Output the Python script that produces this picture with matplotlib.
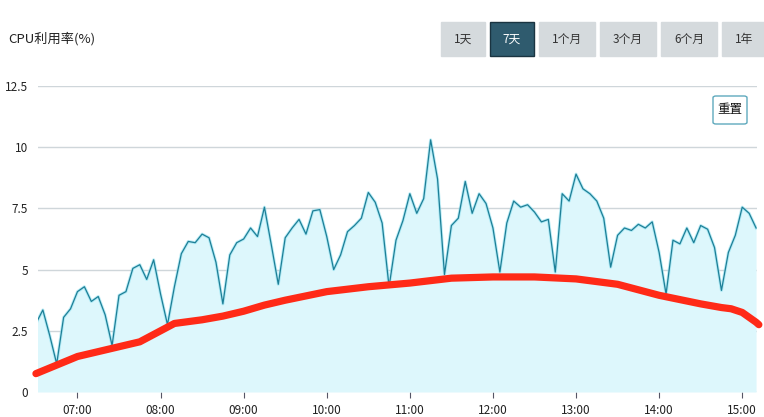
import matplotlib
matplotlib.use("Agg")
from matplotlib import pyplot as plt
from matplotlib.patches import Rectangle, FancyBboxPatch
import matplotlib.dates as mdates
import pandas as pd

plt.rcParams['font.family'] = ['Noto Sans CJK SC', 'DejaVu Sans']

# cpu usage, one reading every 5 minutes from 06:30
start_time = "2024-01-01 06:30"
cpu_values = [2.8, 3.35, 2.3, 1.15, 3.05, 3.4, 4.1, 4.3, 3.7, 3.9,
              3.15, 1.9, 3.95, 4.1, 5.05, 5.2, 4.6, 5.4, 4.0, 2.75,
              4.3, 5.65, 6.15, 6.1, 6.45, 6.3, 5.3, 3.6, 5.6, 6.1,
              6.25, 6.7, 6.35, 7.55, 6.0, 4.4, 6.3, 6.7, 7.05, 6.45,
              7.4, 7.45, 6.35, 5.0, 5.6, 6.55, 6.8, 7.1, 8.15, 7.75,
              6.9, 4.3, 6.2, 7.0, 8.1, 7.3, 7.9, 10.3, 8.7, 4.8,
              6.8, 7.1, 8.6, 7.3, 8.1, 7.7, 6.7, 4.9, 6.9, 7.8,
              7.55, 7.65, 7.35, 6.95, 7.05, 4.9, 8.1, 7.8, 8.9, 8.3,
              8.1, 7.8, 7.1, 5.1, 6.4, 6.7, 6.6, 6.85, 6.7, 6.95,
              5.7, 4.0, 6.2, 6.05, 6.7, 6.1, 6.8, 6.65, 5.9, 4.15,
              5.7, 6.4, 7.55, 7.3, 6.7]

# red trend line
trend_times = ["06:30", "07:00", "07:15", "07:30", "07:45", "08:00", "08:10",
               "08:30", "08:45", "09:00", "09:15", "09:30", "10:00", "10:30",
               "11:00", "11:30", "12:00", "12:30", "13:00", "13:30", "14:00",
               "14:30", "14:45", "14:52", "15:00", "15:10", "15:12"]
trend_values = [0.75, 1.45, 1.65, 1.85, 2.05, 2.5, 2.8,
                2.95, 3.1, 3.3, 3.55, 3.75, 4.1, 4.3,
                4.45, 4.65, 4.7, 4.7, 4.62, 4.4, 3.95,
                3.6, 3.45, 3.4, 3.25, 2.85, 2.75]

y_ticks = [0, 2.5, 5, 7.5, 10, 12.5]
y_labels = ["0", "2.5", "5", "7.5", "10", "12.5"]
buttons = ["1天", "7天", "1个月", "3个月", "6个月", "1年"]
active_button = "7天"

W, H = 764, 417
fig = plt.figure(figsize=(W / 100, H / 100), dpi=100)

def px(x0, y0, w, h):
    # pixel box (top-left origin) -> figure fraction rect
    return (x0 / W, 1 - (y0 + h) / H, w / W, h / H)

ax = fig.add_axes(px(38, 86, 719, 306))

t = pd.date_range(start_time, periods=len(cpu_values), freq="5min")
tt = pd.to_datetime(["2024-01-01 " + s for s in trend_times])

ax.fill_between(t, 0, cpu_values, color="#ddf7fc", lw=0, zorder=1)
ax.plot(t, cpu_values, color="#8ee0f0", lw=2.2, alpha=0.6, zorder=2)
ax.plot(t, cpu_values, color="#1d7f97", lw=0.9, zorder=3)
ax.plot(tt, trend_values, color="#ff2a17", lw=5.2, solid_capstyle="round",
        zorder=4, clip_on=False)

ax.set_xlim(pd.Timestamp("2024-01-01 06:31:30"), pd.Timestamp("2024-01-01 15:10:40"))
ax.set_ylim(0, 12.5)
ax.set_yticks(y_ticks)
ax.set_yticklabels(y_labels)
ax.xaxis.set_major_locator(mdates.HourLocator())
ax.xaxis.set_major_formatter(mdates.DateFormatter("%H:%M"))

ax.grid(axis="y", color="#cfd6da", lw=1)
ax.set_axisbelow(True)
for s in ax.spines.values():
    s.set_visible(False)
ax.tick_params(axis="y", length=0, pad=7, labelsize=8.5, labelcolor="#222222")
ax.tick_params(axis="x", length=4, width=0.8, color="#556", pad=5,
               labelsize=8.5, labelcolor="#222222")
ax.set_facecolor("white")

fig.text(8 / W, 1 - 39 / H, "CPU利用率(%)", fontsize=9.5, color="#222222",
         va="center", ha="left")

# range buttons
bx = [441, 490, 539, 600, 661, 722]
bw = [44, 44, 56, 56, 56, 44]
for lab, x0, w in zip(buttons, bx, bw):
    on = lab == active_button
    fig.add_artist(Rectangle(px(x0, 22, w, 34)[:2], w / W, 34 / H,
                             transform=fig.transFigure,
                             facecolor="#2f5b6e" if on else "#d5dadd",
                             edgecolor="#1a3441" if on else "#d5dadd", lw=1))
    fig.text((x0 + w / 2) / W, 1 - 39 / H, lab, fontsize=8.5,
             color="white" if on else "#333333", ha="center", va="center")

# reset button
fig.add_artist(FancyBboxPatch(px(713, 96, 34, 28)[:2], 34 / W, 28 / H,
                              boxstyle="round,pad=0,rounding_size=0.004",
                              transform=fig.transFigure, facecolor="white",
                              edgecolor="#5fa9bd", lw=1))
fig.text(730 / W, 1 - 110 / H, "重置", fontsize=9, color="#111111",
         ha="center", va="center")

fig.savefig("out.png", dpi=100)
